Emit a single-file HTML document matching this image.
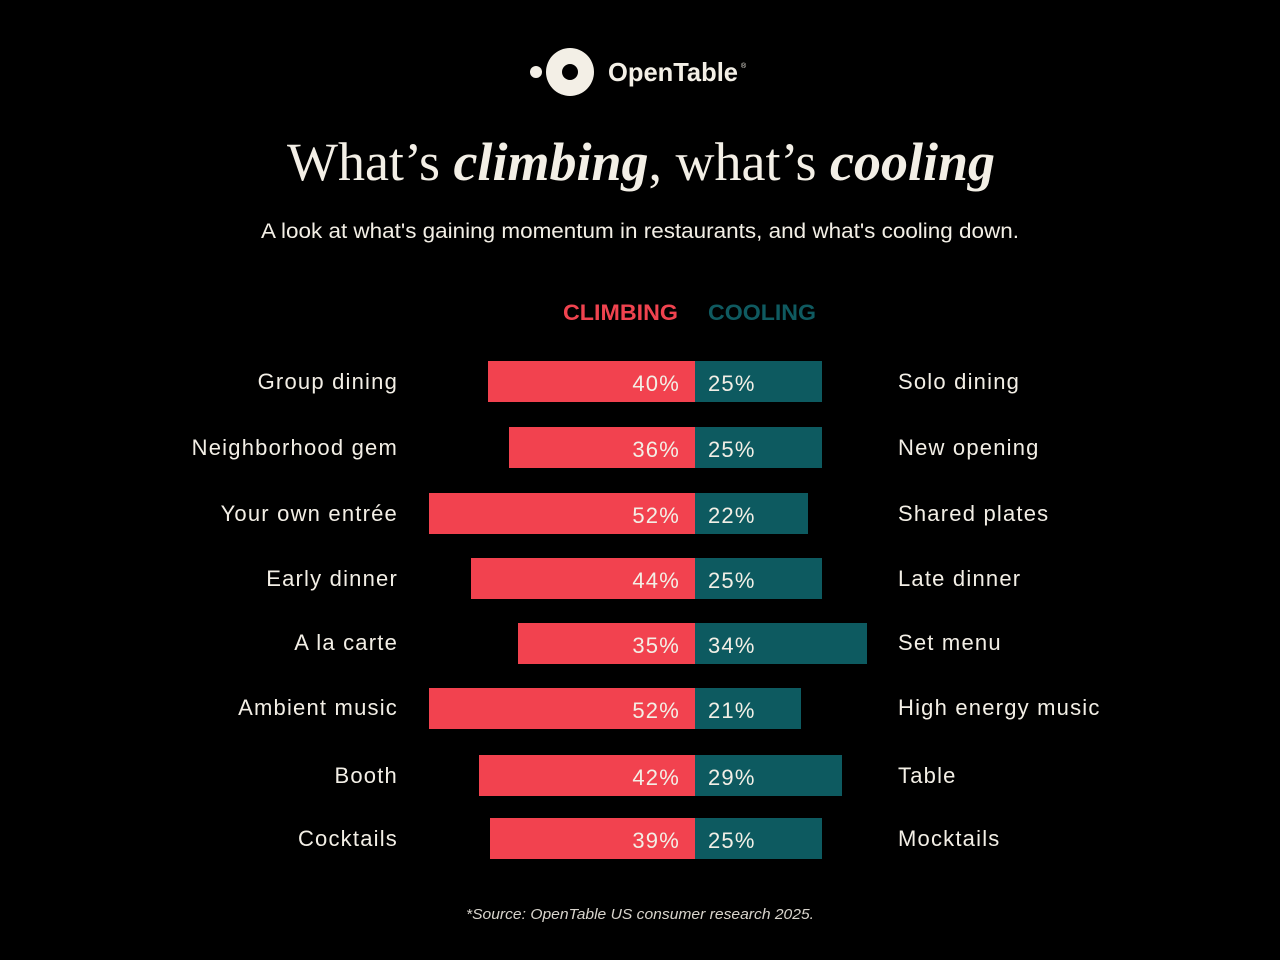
<!DOCTYPE html>
<html><head><meta charset="utf-8"><style>
html,body{margin:0;padding:0;background:#000;}
svg{display:block}
</style></head><body>
<svg width="1280" height="960" viewBox="0 0 1280 960" xmlns="http://www.w3.org/2000/svg">
<rect width="1280" height="960" fill="#000"/>
<g fill="#f3efe6">
<circle cx="536" cy="72" r="6"/>
<circle cx="570" cy="72" r="24"/>
</g>
<circle cx="570" cy="72" r="8" fill="#000"/>
<text x="608" y="81" font-family="Liberation Sans, sans-serif" font-weight="bold" font-size="26" fill="#f3efe6" textLength="130" lengthAdjust="spacingAndGlyphs">OpenTable</text>
<text x="741" y="68" font-family="Liberation Sans, sans-serif" font-size="7" fill="#f3efe6">®</text>
<text x="287" y="180" font-family="Liberation Serif, serif" font-size="54" fill="#f3efe6" textLength="708" lengthAdjust="spacingAndGlyphs">What’s <tspan font-style="italic" font-weight="bold">climbing</tspan>, what’s <tspan font-style="italic" font-weight="bold">cooling</tspan></text>
<text x="261" y="238" font-family="Liberation Sans, sans-serif" font-size="21" fill="#f3efe6" textLength="758" lengthAdjust="spacingAndGlyphs">A look at what's gaining momentum in restaurants, and what's cooling down.</text>
<text x="563" y="320" font-family="Liberation Sans, sans-serif" font-weight="bold" font-size="22" fill="#f0434f" textLength="115" lengthAdjust="spacingAndGlyphs">CLIMBING</text>
<text x="708" y="320" font-family="Liberation Sans, sans-serif" font-weight="bold" font-size="22" fill="#0f5a60" textLength="108" lengthAdjust="spacingAndGlyphs">COOLING</text>
<text x="640" y="919" text-anchor="middle" font-family="Liberation Sans, sans-serif" font-style="italic" font-size="15" fill="#d8d4cc" textLength="348" lengthAdjust="spacingAndGlyphs">*Source: OpenTable US consumer research 2025.</text>

<g font-family="Liberation Sans, sans-serif" font-size="22" fill="#f3efe6" letter-spacing="1.2">
<rect x="488" y="361" width="207" height="41" fill="#f2424f"/><rect x="695" y="361" width="127" height="41" fill="#0d5a60"/>
<text x="398" y="389" text-anchor="end">Group dining</text><text x="898" y="389">Solo dining</text>
<text x="680" y="391" text-anchor="end">40%</text><text x="708" y="391">25%</text>

<rect x="509" y="427" width="186" height="41" fill="#f2424f"/><rect x="695" y="427" width="127" height="41" fill="#0d5a60"/>
<text x="398" y="455" text-anchor="end">Neighborhood gem</text><text x="898" y="455">New opening</text>
<text x="680" y="457" text-anchor="end">36%</text><text x="708" y="457">25%</text>

<rect x="429" y="493" width="266" height="41" fill="#f2424f"/><rect x="695" y="493" width="113" height="41" fill="#0d5a60"/>
<text x="398" y="521" text-anchor="end">Your own entrée</text><text x="898" y="521">Shared plates</text>
<text x="680" y="523" text-anchor="end">52%</text><text x="708" y="523">22%</text>

<rect x="471" y="558" width="224" height="41" fill="#f2424f"/><rect x="695" y="558" width="127" height="41" fill="#0d5a60"/>
<text x="398" y="586" text-anchor="end">Early dinner</text><text x="898" y="586">Late dinner</text>
<text x="680" y="588" text-anchor="end">44%</text><text x="708" y="588">25%</text>

<rect x="518" y="623" width="177" height="41" fill="#f2424f"/><rect x="695" y="623" width="172" height="41" fill="#0d5a60"/>
<text x="398" y="650" text-anchor="end">A la carte</text><text x="898" y="650">Set menu</text>
<text x="680" y="653" text-anchor="end">35%</text><text x="708" y="653">34%</text>

<rect x="429" y="688" width="266" height="41" fill="#f2424f"/><rect x="695" y="688" width="106" height="41" fill="#0d5a60"/>
<text x="398" y="715" text-anchor="end">Ambient music</text><text x="898" y="715">High energy music</text>
<text x="680" y="718" text-anchor="end">52%</text><text x="708" y="718">21%</text>

<rect x="479" y="755" width="216" height="41" fill="#f2424f"/><rect x="695" y="755" width="147" height="41" fill="#0d5a60"/>
<text x="398" y="783" text-anchor="end">Booth</text><text x="898" y="783">Table</text>
<text x="680" y="785" text-anchor="end">42%</text><text x="708" y="785">29%</text>

<rect x="490" y="818" width="205" height="41" fill="#f2424f"/><rect x="695" y="818" width="127" height="41" fill="#0d5a60"/>
<text x="398" y="846" text-anchor="end">Cocktails</text><text x="898" y="846">Mocktails</text>
<text x="680" y="848" text-anchor="end">39%</text><text x="708" y="848">25%</text>
</g>
</svg>
</body></html>
